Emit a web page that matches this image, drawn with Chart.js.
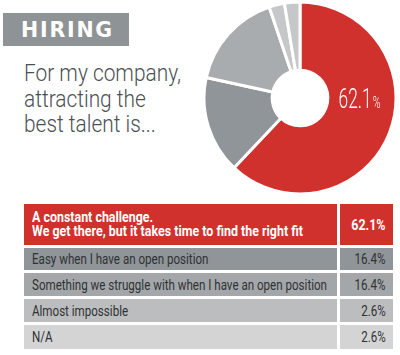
<!DOCTYPE html>
<html>
<head>
<meta charset="utf-8">
<script src="https://cdn.jsdelivr.net/npm/chart.js@4"></script>
<style>
  html, body { margin: 0; padding: 0; background: #ffffff; }
  body { width: 400px; height: 355px; position: relative; overflow: hidden; font-family: Roboto, sans-serif; }
  #hdr { position: absolute; left: 3px; top: 13px; width: 126px; height: 33px; background: #8e9395; }
  #hdr span { position: absolute; left: 18px; top: 2px; color: #fff; font-family: "DejaVu Sans", sans-serif; font-weight: bold; font-size: 20.5px; letter-spacing: 1.8px; line-height: 30px; }
  #title { position: absolute; left: 24px; top: 61px; color: #4b5053; font-family: Roboto, sans-serif; font-weight: 300; font-size: 24px; line-height: 25.5px; }
  #title span { display: inline-block; transform-origin: left center; white-space: nowrap; }
  #pie { position: absolute; left: 202px; top: 0px; }
  #tbl { position: absolute; left: 24px; top: 204px; }
  .row { display: flex; margin-bottom: 3px; }
  .lab { width: 305px; padding-left: 8px; display: flex; flex-direction: column; justify-content: center; align-items: flex-start; font-size: 14px; color: #2f3234; overflow: visible; }
  .lab span { display: inline-block; transform-origin: left center; white-space: nowrap; }
  .val { width: 46px; margin-left: 3px; padding-right: 7px; display: flex; align-items: center; justify-content: flex-end; font-size: 14px; color: #2f3234; }
  .val span { display: inline-block; transform-origin: right center; white-space: nowrap; }
  .first .lab, .first .val { color: #fff; font-weight: bold; }
  .first .lab span { line-height: 13.5px; }
</style>
</head>
<body>
<div id="hdr"><span>HIRING</span></div>
<div id="title"><span>For my company,</span><br><span>attracting the</span><br><span>best talent is...</span></div>
<canvas id="pie" width="196" height="196"></canvas>
<div id="tbl"></div>
<script>
const categories = [
  ["A constant challenge.", "We get there, but it takes time to find the right fit"],
  "Easy when I have an open position",
  "Something we struggle with when I have an open position",
  "Almost impossible",
  "N/A"
];
const values = [62.1, 16.4, 16.4, 2.6, 2.6];
const valueLabels = ["62.1%", "16.4%", "16.4%", "2.6%", "2.6%"];
const sliceColors = ["#d1312d", "#8f9598", "#a9acae", "#c6c7c8", "#c6c7c8"];
const rowColors = ["#d1312d", "#8f9598", "#a4a7a9", "#bcbdbe", "#d4d4d4"];
const rowHeights = [41, 22, 23, 23, 24];

// table built from the arrays
const tbl = document.getElementById('tbl');
const labSpans = [], valSpans = [];
categories.forEach((c, i) => {
  const row = document.createElement('div');
  row.className = 'row' + (i === 0 ? ' first' : '');
  row.style.height = rowHeights[i] + 'px';
  const lab = document.createElement('div');
  lab.className = 'lab';
  lab.style.background = rowColors[i];
  (Array.isArray(c) ? c : [c]).forEach(t => {
    const s = document.createElement('span');
    s.textContent = t;
    lab.appendChild(s);
    labSpans.push({ s, bold: i === 0 });
  });
  const val = document.createElement('div');
  val.className = 'val';
  val.style.background = rowColors[i];
  const vs = document.createElement('span');
  vs.textContent = valueLabels[i];
  val.appendChild(vs);
  valSpans.push({ s: vs, bold: i === 0 });
  row.appendChild(lab); row.appendChild(val);
  tbl.appendChild(row);
});

// condense the text to the narrow face of the original
function condense() {
  const ref = labSpans.find(o => o.s.textContent.startsWith('Something'));
  const refB = labSpans.find(o => o.s.textContent.startsWith('We get'));
  const k = 295 / ref.s.getBoundingClientRect().width;
  const kb = 271 / refB.s.getBoundingClientRect().width;
  labSpans.forEach(o => o.s.style.transform = 'scaleX(' + (o.bold ? kb : k) + ')');
  valSpans.forEach(o => o.s.style.transform = 'scaleX(' + (o.bold ? kb : k) + ')');
  const ts = document.querySelectorAll('#title span');
  const kt = 157 / ts[0].getBoundingClientRect().width;
  ts.forEach(s => s.style.transform = 'scaleX(' + kt + ')');
}
condense();

const bigLabel = {
  id: 'bigLabel',
  afterDatasetsDraw(chart) {
    const arc = chart.getDatasetMeta(0).data[0];
    const ctx = chart.ctx;
    const cx = arc.x + arc.outerRadius * 0.62;
    const y = arc.y + 10;
    const sx = 0.62;
    ctx.save();
    ctx.fillStyle = '#ffffff';
    ctx.textBaseline = 'alphabetic';
    ctx.textAlign = 'left';
    const num = String(values[0]);
    ctx.font = '300 28px Roboto';
    const w1 = ctx.measureText(num).width * sx;
    ctx.font = '300 17px Roboto';
    const w2 = ctx.measureText('%').width * sx;
    const start = cx - (w1 + w2 + 1) / 2;
    ctx.translate(start, y);
    ctx.scale(sx, 1);
    ctx.font = '300 28px Roboto';
    ctx.fillText(num, 0, 0);
    ctx.font = '300 17px Roboto';
    ctx.fillText('%', (w1 + 1) / sx, 0);
    ctx.restore();
  }
};

new Chart(document.getElementById('pie'), {
  type: 'doughnut',
  data: {
    labels: categories.map(c => Array.isArray(c) ? c.join(' ') : c),
    datasets: [{
      data: values,
      backgroundColor: sliceColors,
      borderColor: '#ffffff',
      borderWidth: 3,
      hoverOffset: 0
    }]
  },
  options: {
    responsive: false,
    animation: false,
    radius: 96,
    cutout: 28,
    layout: { padding: 0 },
    plugins: { legend: { display: false }, tooltip: { enabled: false } }
  },
  plugins: [bigLabel]
});
</script>
</body>
</html>
